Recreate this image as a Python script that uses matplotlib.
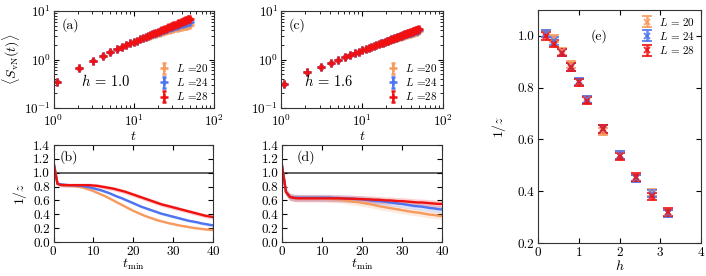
import numpy as np
import matplotlib
matplotlib.use("Agg")
import matplotlib.pyplot as plt

plt.rcParams['font.family'] = 'serif'
plt.rcParams['font.serif'] = ['cmr10', 'DejaVu Serif']
plt.rcParams['mathtext.fontset'] = 'cm'
plt.rcParams['axes.formatter.use_mathtext'] = True
plt.rcParams['axes.unicode_minus'] = False

# ---------------- data ----------------
L_values = [20, 24, 28]
colors = ['#f79a5e', '#4d73f0', '#f01010']

t_steps = np.arange(1, 51) + 0.1

# panel (a): h = 1.0
S_a_L20 = [0.35, 0.66, 0.95, 1.18, 1.42, 1.62, 1.80, 1.98, 2.14, 2.30,
           2.46, 2.61, 2.74, 2.87, 2.99, 3.10, 3.21, 3.31, 3.41, 3.50,
           3.59, 3.68, 3.76, 3.84, 3.92, 3.99, 4.06, 4.13, 4.19, 4.25,
           4.31, 4.37, 4.43, 4.48, 4.53, 4.58, 4.63, 4.68, 4.72, 4.77,
           4.81, 4.85, 4.89, 4.93, 4.97, 5.01, 5.04, 5.08, 5.11, 5.15]
S_a_L24 = [0.35, 0.66, 0.95, 1.18, 1.42, 1.62, 1.80, 1.98, 2.14, 2.30,
           2.46, 2.61, 2.76, 2.91, 3.05, 3.18, 3.30, 3.43, 3.55, 3.66,
           3.77, 3.88, 3.99, 4.09, 4.19, 4.29, 4.39, 4.48, 4.57, 4.66,
           4.75, 4.84, 4.92, 5.00, 5.08, 5.16, 5.24, 5.31, 5.38, 5.45,
           5.52, 5.59, 5.65, 5.71, 5.77, 5.83, 5.89, 5.94, 5.99, 6.04]
S_a_L28 = [0.35, 0.66, 0.95, 1.18, 1.42, 1.62, 1.80, 1.98, 2.14, 2.30,
           2.46, 2.61, 2.76, 2.91, 3.05, 3.19, 3.32, 3.46, 3.59, 3.72,
           3.85, 3.97, 4.10, 4.22, 4.34, 4.46, 4.58, 4.70, 4.81, 4.92,
           5.03, 5.14, 5.25, 5.36, 5.47, 5.58, 5.69, 5.79, 5.90, 6.00,
           6.10, 6.20, 6.31, 6.41, 6.51, 6.61, 6.71, 6.81, 6.90, 7.00]

# panel (c): h = 1.6
S_c_L20 = [0.31, 0.54, 0.70, 0.85, 0.97, 1.12, 1.23, 1.34, 1.45, 1.55,
           1.64, 1.73, 1.82, 1.91, 1.99, 2.07, 2.15, 2.23, 2.30, 2.37,
           2.44, 2.50, 2.56, 2.62, 2.68, 2.74, 2.80, 2.85, 2.91, 2.96,
           3.01, 3.06, 3.11, 3.16, 3.21, 3.25, 3.30, 3.34, 3.39, 3.43,
           3.47, 3.51, 3.55, 3.59, 3.63, 3.67, 3.71, 3.74, 3.78, 3.81]
S_c_L24 = [0.31, 0.54, 0.70, 0.85, 0.97, 1.12, 1.23, 1.34, 1.45, 1.55,
           1.64, 1.73, 1.82, 1.91, 1.99, 2.07, 2.15, 2.23, 2.31, 2.39,
           2.46, 2.54, 2.61, 2.68, 2.75, 2.81, 2.87, 2.93, 2.99, 3.05,
           3.11, 3.17, 3.22, 3.28, 3.33, 3.39, 3.44, 3.49, 3.55, 3.60,
           3.65, 3.70, 3.75, 3.80, 3.85, 3.90, 3.94, 3.99, 4.04, 4.08]
S_c_L28 = [0.31, 0.54, 0.70, 0.85, 0.97, 1.12, 1.23, 1.34, 1.45, 1.55,
           1.64, 1.73, 1.82, 1.91, 1.99, 2.07, 2.15, 2.23, 2.31, 2.39,
           2.46, 2.54, 2.61, 2.68, 2.75, 2.82, 2.89, 2.96, 3.02, 3.09,
           3.15, 3.21, 3.28, 3.34, 3.40, 3.46, 3.52, 3.58, 3.64, 3.70,
           3.76, 3.82, 3.88, 3.93, 3.99, 4.05, 4.10, 4.15, 4.21, 4.26]
rel_err_S = [0.04, 0.035, 0.03]

# panel (b): 1/z vs t_min, h = 1.0
tmin = np.arange(0, 41)
z_b_L20 = [1.15, 0.84, 0.83, 0.82, 0.815, 0.81, 0.80, 0.79, 0.775, 0.755,
           0.735, 0.71, 0.685, 0.66, 0.63, 0.60, 0.57, 0.54, 0.51, 0.48,
           0.45, 0.425, 0.40, 0.375, 0.355, 0.335, 0.315, 0.30, 0.285, 0.27,
           0.26, 0.245, 0.235, 0.225, 0.215, 0.205, 0.197, 0.19, 0.183, 0.177,
           0.172]
z_b_L24 = [1.15, 0.84, 0.83, 0.825, 0.82, 0.82, 0.815, 0.81, 0.80, 0.79,
           0.775, 0.76, 0.745, 0.725, 0.705, 0.68, 0.655, 0.635, 0.61, 0.585,
           0.56, 0.535, 0.51, 0.49, 0.47, 0.45, 0.43, 0.41, 0.395, 0.38,
           0.365, 0.35, 0.335, 0.32, 0.305, 0.295, 0.285, 0.27, 0.26, 0.25,
           0.24]
z_b_L28 = [1.15, 0.84, 0.82, 0.82, 0.82, 0.82, 0.82, 0.82, 0.82, 0.82,
           0.815, 0.81, 0.80, 0.79, 0.78, 0.77, 0.755, 0.74, 0.725, 0.705,
           0.685, 0.665, 0.645, 0.625, 0.605, 0.585, 0.565, 0.545, 0.53, 0.515,
           0.50, 0.485, 0.47, 0.455, 0.44, 0.425, 0.41, 0.395, 0.38, 0.37,
           0.36]
band_b = [0.015, 0.02, 0.03]

# panel (d): 1/z vs t_min, h = 1.6
z_d_L20 = [1.10, 0.72, 0.65, 0.64, 0.635, 0.635, 0.635, 0.635, 0.635, 0.635,
           0.635, 0.63, 0.625, 0.62, 0.615, 0.61, 0.60, 0.59, 0.58, 0.575,
           0.565, 0.555, 0.545, 0.535, 0.52, 0.51, 0.50, 0.49, 0.48, 0.47,
           0.46, 0.45, 0.44, 0.43, 0.425, 0.415, 0.405, 0.395, 0.39, 0.38,
           0.375]
z_d_L24 = [1.10, 0.72, 0.65, 0.64, 0.64, 0.64, 0.64, 0.64, 0.64, 0.64,
           0.64, 0.64, 0.64, 0.635, 0.635, 0.63, 0.63, 0.625, 0.62, 0.62,
           0.615, 0.61, 0.60, 0.595, 0.59, 0.585, 0.58, 0.57, 0.565, 0.555,
           0.55, 0.54, 0.53, 0.52, 0.515, 0.51, 0.50, 0.49, 0.485, 0.475,
           0.47]
z_d_L28 = [1.10, 0.72, 0.65, 0.635, 0.63, 0.63, 0.63, 0.63, 0.63, 0.63,
           0.63, 0.63, 0.63, 0.63, 0.63, 0.63, 0.625, 0.625, 0.625, 0.62,
           0.62, 0.615, 0.615, 0.61, 0.61, 0.605, 0.60, 0.60, 0.595, 0.59,
           0.59, 0.585, 0.58, 0.575, 0.57, 0.57, 0.565, 0.56, 0.555, 0.55,
           0.55]
band_d = [0.05, 0.05, 0.05]

# panel (e): 1/z vs h
h_vals = [0.2, 0.4, 0.6, 0.8, 1.0, 1.2, 1.6, 2.0, 2.4, 2.8, 3.2]
z_e_L20 = [1.01, 0.99, 0.94, 0.89, 0.82, 0.755, 0.63, 0.54, 0.45, 0.395, 0.315]
z_e_L24 = [1.01, 0.98, 0.935, 0.88, 0.825, 0.755, 0.64, 0.54, 0.45, 0.39, 0.315]
z_e_L28 = [1.00, 0.97, 0.935, 0.88, 0.82, 0.75, 0.64, 0.535, 0.455, 0.38, 0.32]
err_e = [0.014, 0.014, 0.014]

# ---------------- figure ----------------
fig = plt.figure(figsize=(7.06, 2.76), dpi=100)
W, H = 706.0, 276.0

def add_ax(l, t, r, b):
    return fig.add_axes([l / W, 1 - b / H, (r - l) / W, (b - t) / H])

ax_a = add_ax(53.5, 11, 214, 108)
ax_c = add_ax(281, 11, 443, 108)
ax_b = add_ax(53.5, 145, 213, 242)
ax_d = add_ax(282, 145, 442, 242)
ax_e = add_ax(538, 10, 701, 243)

fs_tick = 9.5
fs_lab = 10

def style(ax):
    ax.tick_params(which='both', direction='in', top=True, right=True,
                   labelsize=fs_tick, pad=2.5)
    ax.tick_params(which='major', length=3.5, width=0.8)
    ax.tick_params(which='minor', length=2, width=0.6)
    for s in ax.spines.values():
        s.set_linewidth(0.8)
        s.set_color('#333333')

# panels (a) and (c)
for ax, series, label, hlab, hx in [
        (ax_a, [S_a_L20, S_a_L24, S_a_L28], '(a)', r'$h\,=\,1.0$', 0.17),
        (ax_c, [S_c_L20, S_c_L24, S_c_L28], '(c)', r'$h\,=\,1.6$', 0.14)]:
    for S, c, L, re in zip(series, colors, L_values, rel_err_S):
        S = np.array(S)
        ax.errorbar(t_steps, S, yerr=S * re, fmt='+', color=c, ms=6,
                    mew=1.8, elinewidth=1.2, capsize=1.5, capthick=1.0,
                    label=r'$L$ =%d' % L)
    ax.set_xscale('log')
    ax.set_yscale('log')
    ax.set_xlim(1, 100)
    ax.set_ylim(0.1, 10)
    style(ax)
    ax.tick_params(axis='x', which='both', pad=4)
    ax.tick_params(axis='y', which='both', pad=2)
    ax.set_xlabel(r'$t$', fontsize=fs_lab, labelpad=0.5)
    ax.text(0.05, 0.85, label, transform=ax.transAxes, fontsize=fs_lab,
            va='center', ha='left')
    ax.text(hx, 0.28, hlab, transform=ax.transAxes, fontsize=10.5,
            va='center', ha='left')
    ax.legend(loc='lower right', fontsize=8, frameon=False,
              handlelength=1.0, handletextpad=0.6, labelspacing=0.2,
              borderaxespad=0.3, borderpad=0.2)
ax_a.set_ylabel(r'$\langle S_{\rm vN}(t)\rangle$', fontsize=fs_lab, labelpad=1)

# panels (b) and (d)
for ax, series, bands, label, lx in [
        (ax_b, [z_b_L20, z_b_L24, z_b_L28], band_b, '(b)', 0.04),
        (ax_d, [z_d_L20, z_d_L24, z_d_L28], band_d, '(d)', 0.09)]:
    ax.axhline(1.0, color='#555555', lw=1.3, zorder=1)
    for z, c, bw in zip(series, colors, bands):
        z = np.array(z)
        ax.fill_between(tmin, z - bw, z + bw, color=c, alpha=0.2, lw=0)
        ax.plot(tmin, z, color=c, lw=1.7)
    ax.set_xlim(0, 40)
    ax.set_ylim(0, 1.4)
    ax.set_xticks([0, 10, 20, 30, 40])
    ax.set_yticks(np.arange(0, 1.41, 0.2))
    ax.set_yticklabels(['%.1f' % v for v in np.arange(0, 1.41, 0.2)])
    style(ax)
    ax.set_xlabel(r'$t_{\rm min}$', fontsize=fs_lab, labelpad=-1)
    ax.text(lx, 0.88, label, transform=ax.transAxes, fontsize=fs_lab,
            va='center', ha='left')
ax_b.set_ylabel(r'$1/z$', fontsize=fs_lab, labelpad=3)

# panel (e)
for z, c, L, e in zip([z_e_L20, z_e_L24, z_e_L28], colors, L_values, err_e):
    ax_e.errorbar(h_vals, z, yerr=e, fmt='x', color=c, ms=5, mew=1.4,
                  elinewidth=1.8, capsize=3.5, capthick=1.4, alpha=0.85,
                  label=r'$L\,=\,%d$' % L)
ax_e.set_xlim(0, 4)
ax_e.set_ylim(0.2, 1.1)
ax_e.set_xticks([0, 1, 2, 3, 4])
ax_e.set_yticks([0.2, 0.4, 0.6, 0.8, 1.0])
ax_e.set_yticklabels(['0.2', '0.4', '0.6', '0.8', '1.0'])
style(ax_e)
ax_e.set_xlabel(r'$h$', fontsize=fs_lab, labelpad=0)
ax_e.set_ylabel(r'$1/z$', fontsize=fs_lab, labelpad=7)
ax_e.text(0.375, 0.89, '(e)', transform=ax_e.transAxes, fontsize=fs_lab,
          va='center', ha='center')
ax_e.legend(loc='upper right', fontsize=8, frameon=False,
            handlelength=1.0, handletextpad=0.6, labelspacing=0.2,
            borderaxespad=0.3, borderpad=0.2)

fig.savefig('out.png', dpi=100)
